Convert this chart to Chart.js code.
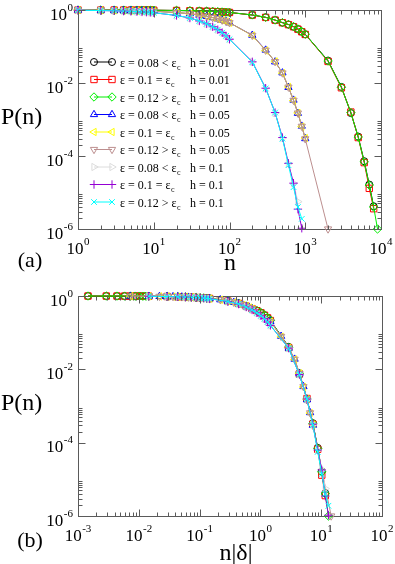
<!DOCTYPE html>
<html>
<head>
<meta charset="utf-8">
<title>P(n)</title>
<style>
  html, body { margin: 0; padding: 0; background: #fff; }
  .wrap { position: relative; width: 395px; height: 564px; }
  canvas { position: absolute; left: 0; }
  #top { top: 0; }
  #bottom { top: 282px; }
</style>
</head>
<body>
<div class="wrap">
  <canvas id="top" width="395" height="282"></canvas>
  <canvas id="bottom" width="395" height="282"></canvas>
</div>
<script src="https://cdn.jsdelivr.net/npm/chart.js"></script>
<script>
// step n of the walk (shared by all series, each series stops earlier or later)
const nValues = [1,2,3,4,5,6,7,8,9,10,20,30,40,50,60,70,80,90,100,200,300,400,500,600,700,800,900,1000,2000,3000,4000,5000,6000,7000,8000,9000];

// P(n)
const pEps008h001 = [0.9985,0.997,0.9955,0.994,0.9925,0.991,0.9895,0.988,0.9865,0.985,0.970,0.955,0.940,0.925,0.910,0.897,0.884,0.870,0.857,0.73,0.63,0.53,0.45,0.40,0.35,0.30,0.255,0.216,0.041,7.8e-3,1.5e-3,3.4e-4,7.2e-5,1.65e-5,4.2e-6];
const pEps010h001 = [0.9985,0.997,0.9955,0.994,0.9925,0.991,0.9895,0.988,0.9865,0.985,0.969,0.954,0.939,0.924,0.909,0.896,0.883,0.869,0.856,0.728,0.627,0.528,0.448,0.397,0.347,0.298,0.253,0.214,0.039,7.4e-3,1.6e-3,3.2e-4,6.6e-5,1.3e-5,3.6e-6];
const pEps012h001 = [0.9986,0.9972,0.9958,0.9944,0.993,0.9916,0.9902,0.9888,0.9874,0.986,0.971,0.956,0.941,0.926,0.911,0.898,0.885,0.871,0.858,0.732,0.632,0.532,0.452,0.402,0.352,0.302,0.256,0.218,0.040,7.6e-3,1.55e-3,3.3e-4,6.9e-5,1.6e-5,4.0e-6,1.0e-6];
const pEps008h005 = [0.992,0.984,0.976,0.968,0.961,0.953,0.945,0.938,0.930,0.923,0.851,0.790,0.724,0.672,0.617,0.572,0.525,0.487,0.447,0.204,0.080,0.038,0.0190,7.6e-3,3.4e-3,1.48e-3,6.6e-4,3.0e-4];
const pEps010h005 = [0.992,0.984,0.976,0.969,0.961,0.953,0.946,0.938,0.931,0.923,0.852,0.788,0.726,0.670,0.619,0.570,0.527,0.485,0.449,0.200,0.078,0.039,0.0186,7.8e-3,3.3e-3,1.52e-3,6.4e-4,3.1e-4];
const pEps012h005 = [0.992,0.984,0.977,0.969,0.961,0.954,0.946,0.939,0.931,0.924,0.853,0.791,0.725,0.674,0.618,0.573,0.526,0.488,0.448,0.202,0.079,0.0385,0.0188,7.7e-3,3.35e-3,1.5e-3,6.5e-4,2.95e-4,1.0e-6];
const pEps008h01 = [0.984,0.967,0.951,0.934,0.918,0.903,0.887,0.873,0.858,0.843,0.706,0.602,0.502,0.416,0.348,0.287,0.241,0.196,0.159,0.038,7.3e-3,1.5e-3,3.1e-4,6.2e-5,1.8e-5,5.6e-6];
const pEps010h01 = [0.984,0.966,0.951,0.933,0.918,0.904,0.887,0.873,0.859,0.843,0.708,0.603,0.501,0.417,0.347,0.288,0.240,0.195,0.158,0.038,7.2e-3,1.55e-3,3.2e-4,6.3e-5,1.8e-5,3.5e-6,1.05e-6];
const pEps012h01 = [0.984,0.966,0.951,0.933,0.918,0.904,0.887,0.873,0.859,0.843,0.710,0.605,0.500,0.418,0.346,0.289,0.239,0.196,0.157,0.037,7.1e-3,1.55e-3,3.0e-4,5.6e-5,1.4e-5,4.0e-6,1.9e-6];

// |delta| used for the collapse in panel (b), one per h
const deltaAbs = { '0.01': 0.00146, '0.05': 0.0073, '0.1': 0.0146 };

const epsLabels = ['0.08 <', '0.1 =', '0.12 >', '0.08 <', '0.1 =', '0.12 >', '0.08 <', '0.1 =', '0.12 >'];
const hLabels = ['0.01', '0.01', '0.01', '0.05', '0.05', '0.05', '0.1', '0.1', '0.1'];
const seriesP = [pEps008h001, pEps010h001, pEps012h001, pEps008h005, pEps010h005, pEps012h005, pEps008h01, pEps010h01, pEps012h01];

const colors = ['#000000', '#ff0000', '#00ee00', '#0000ff', '#ffff00', '#bc8f8f', '#dcdcdc', '#9400d3', '#00ffff'];
const marks = [
  { style: 'circle', rot: 0, r: 3.5 },
  { style: 'rect', rot: 0, r: 4.5 },
  { style: 'rectRot', rot: 0, r: 4.2 },
  { style: 'triangle', rot: 0, r: 4.2 },
  { style: 'triangle', rot: 270, r: 4.2 },
  { style: 'triangle', rot: 180, r: 4.2 },
  { style: 'triangle', rot: 90, r: 4.2 },
  { style: 'cross', rot: 0, r: 4.2 },
  { style: 'crossRot', rot: 0, r: 4 }
];

const serif = '"Liberation Serif", "Times New Roman", serif';
const axisColor = '#5a5a5a';

function buildDatasets(scaled) {
  return seriesP.map((p, i) => ({
    data: p.map((v, j) => ({ x: scaled ? nValues[j] * deltaAbs[hLabels[i]] : nValues[j], y: v })),
    borderColor: colors[i],
    borderWidth: 1,
    pointStyle: marks[i].style,
    pointRotation: marks[i].rot,
    pointRadius: marks[i].r,
    pointBorderColor: colors[i],
    pointBackgroundColor: 'rgba(0,0,0,0)',
    pointBorderWidth: 1,
    fill: false,
    tension: 0,
    clip: false,
    order: -i
  }));
}

function drawPow(ctx, exp, x, base10, baseExp, align) {
  ctx.font = '17px ' + serif;
  const w10 = ctx.measureText('10').width;
  ctx.font = '11px ' + serif;
  const wE = ctx.measureText(exp).width;
  const total = w10 + wE + 0.5;
  const x0 = align === 'right' ? x - total : x - total / 2;
  ctx.fillStyle = '#000';
  ctx.textAlign = 'left';
  ctx.textBaseline = 'alphabetic';
  ctx.font = '17px ' + serif;
  ctx.fillText('10', x0, base10);
  ctx.font = '11px ' + serif;
  ctx.fillText(exp, x0 + w10 + 0.5, baseExp);
}

function marker(ctx, i, x, y) {
  ctx.save();
  ctx.strokeStyle = colors[i];
  ctx.fillStyle = 'rgba(0,0,0,0)';
  ctx.lineWidth = 1;
  Chart.helpers.drawPoint(ctx, { pointStyle: marks[i].style, rotation: marks[i].rot, radius: marks[i].r, borderWidth: 1 }, x, y);
  ctx.restore();
}

function framePlugin(cfg) {
  return {
    id: 'frame',
    beforeDatasetsDraw(chart) {
      const { ctx, chartArea: a } = chart;
      ctx.save();
      ctx.strokeStyle = axisColor;
      ctx.lineWidth = 1;
      ctx.strokeRect(Math.round(a.left) + 0.5, Math.round(a.top) + 0.5, Math.round(a.right - a.left), Math.round(a.bottom - a.top));
      ctx.restore();
    },
    afterDatasetsDraw(chart) {
      const { ctx, chartArea: a, scales } = chart;
      const L = Math.round(a.left) + 0.5, R = Math.round(a.right) + 0.5;
      const T = Math.round(a.top) + 0.5, B = Math.round(a.bottom) + 0.5;
      ctx.save();
      ctx.strokeStyle = axisColor;
      ctx.lineWidth = 1;
      ctx.beginPath();
      // x ticks, bottom and top, pointing in
      for (let e = cfg.xExp[0]; e <= cfg.xExp[1]; e++) {
        const px = Math.round(scales.x.getPixelForValue(Math.pow(10, e))) + 0.5;
        ctx.moveTo(px, B); ctx.lineTo(px, B - 7);
        ctx.moveTo(px, T); ctx.lineTo(px, T + 7);
        if (e < cfg.xExp[1]) {
          for (let k = 2; k <= 9; k++) {
            const mx = Math.round(scales.x.getPixelForValue(k * Math.pow(10, e))) + 0.5;
            ctx.moveTo(mx, B); ctx.lineTo(mx, B - 4);
            ctx.moveTo(mx, T); ctx.lineTo(mx, T + 4);
          }
        }
      }
      // y ticks, left and right
      cfg.yMajor.forEach(e => {
        const py = Math.round(scales.y.getPixelForValue(Math.pow(10, e))) + 0.5;
        ctx.moveTo(L, py); ctx.lineTo(L + 7, py);
        ctx.moveTo(R, py); ctx.lineTo(R - 7, py);
        if (e < 0) {
          for (let k = 2; k <= 9; k++) {
            const my = Math.round(scales.y.getPixelForValue(k * Math.pow(10, e))) + 0.5;
            ctx.moveTo(L, my); ctx.lineTo(L + 4, my);
            ctx.moveTo(R, my); ctx.lineTo(R - 4, my);
          }
        }
      });
      ctx.stroke();

      // tick labels
      for (let e = cfg.xExp[0]; e <= cfg.xExp[1]; e++) {
        const px = scales.x.getPixelForValue(Math.pow(10, e));
        drawPow(ctx, String(e), px, a.bottom + 25, a.bottom + 16, 'center');
      }
      cfg.yMajor.forEach(e => {
        const py = scales.y.getPixelForValue(Math.pow(10, e));
        drawPow(ctx, String(e), a.left - 5, py + 9.5, py + 0.5, 'right');
      });

      // axis titles and panel tag
      ctx.fillStyle = '#000';
      ctx.font = '24px ' + serif;
      ctx.textAlign = 'left';
      ctx.fillText('P(n)', 1, cfg.pY);
      ctx.textAlign = 'center';
      ctx.fillText(cfg.xTitle, cfg.xTitleX, cfg.xTitleY);
      ctx.font = '22px ' + serif;
      ctx.fillText(cfg.tag, 30, cfg.tagY);

      if (cfg.legend) {
        for (let i = 0; i < seriesP.length; i++) {
          const y = 62 + i * 17.5;
          ctx.strokeStyle = colors[i];
          ctx.lineWidth = 1;
          ctx.beginPath();
          ctx.moveTo(94, y); ctx.lineTo(112, y);
          ctx.stroke();
          marker(ctx, i, 94, y);
          marker(ctx, i, 112, y);
          ctx.fillStyle = '#000';
          ctx.textAlign = 'left';
          ctx.font = '12px ' + serif;
          const txt = 'ε = ' + epsLabels[i] + ' ε';
          ctx.fillText(txt, 120, y + 4.5);
          const w = ctx.measureText(txt).width;
          ctx.font = '8px ' + serif;
          ctx.fillText('c', 120 + w + 0.5, y + 7.5);
          ctx.font = '12px ' + serif;
          ctx.fillText('h = ' + hLabels[i], 190, y + 4.5);
        }
      }
      ctx.restore();
    }
  };
}

function makeChart(id, scaled, pad, xMin, xMax, cfg) {
  return new Chart(document.getElementById(id), {
    type: 'line',
    data: { datasets: buildDatasets(scaled) },
    options: {
      responsive: false,
      animation: false,
      devicePixelRatio: 1,
      layout: { padding: pad },
      plugins: { legend: { display: false }, tooltip: { enabled: false } },
      scales: {
        x: { type: 'logarithmic', min: xMin, max: xMax, display: false },
        y: { type: 'logarithmic', min: 1e-6, max: 1, display: false }
      }
    },
    plugins: [framePlugin(cfg)]
  });
}

makeChart('top', false, { left: 78, right: 14, top: 10, bottom: 53 }, 1, 1e4, {
  xExp: [0, 4], yMajor: [0, -2, -4, -6],
  pY: 124, xTitle: 'n', xTitleX: 230, xTitleY: 270, tag: '(a)', tagY: 267, legend: true
});

makeChart('bottom', true, { left: 78, right: 13, top: 14, bottom: 48 }, 1e-3, 1e2, {
  xExp: [-3, 2], yMajor: [0, -2, -4, -6],
  pY: 128, xTitle: 'n|δ|', xTitleX: 236, xTitleY: 278, tag: '(b)', tagY: 265, legend: false
});
</script>
</body>
</html>
